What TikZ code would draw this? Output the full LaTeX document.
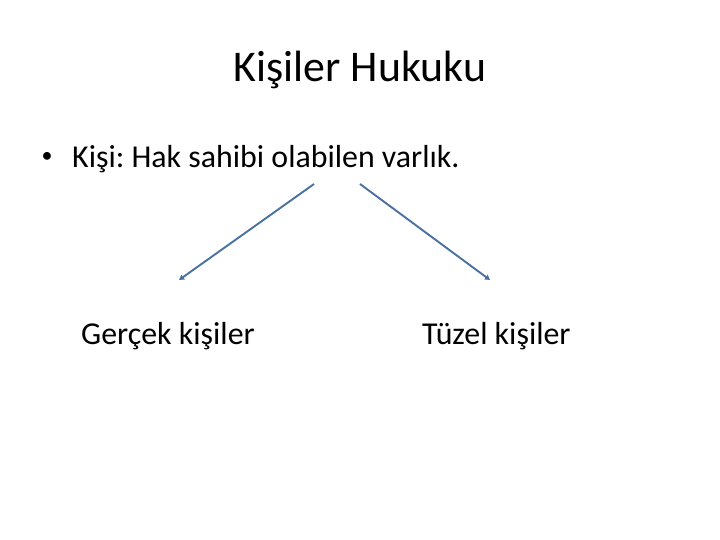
\documentclass[tikz,border=0pt]{standalone}
\usepackage{fontspec}
\setmainfont{Carlito}
\usetikzlibrary{arrows.meta}
\definecolor{linkblue}{RGB}{74,112,160}
\frenchspacing
\begin{document}
\begin{tikzpicture}[x=1bp,y=-1bp,
  txt/.style={inner sep=0pt,anchor=base west,font=\fontsize{32}{38}\selectfont},
  conn/.style={draw=linkblue,line width=1.9bp,-{Triangle[length=5bp,width=5.5bp]}}]
\useasboundingbox (0,0) rectangle (720,540);
\node[inner sep=0pt,anchor=base,font=\fontsize{44}{52}\selectfont] (title) at (360,82) {Kişiler Hukuku};
\node[inner sep=0pt,anchor=base,font=\fontsize{22}{26}\selectfont] (dot) at (47,163) {•};
\node[txt] (bul) at (72,168) {Kişi: Hak sahibi olabilen varlık.};
\coordinate (ls) at (314,184);
\coordinate (le) at (179,280);
\coordinate (rs) at (360,184);
\coordinate (re) at (490,280);
\draw[conn] (ls) -- (le);
\draw[conn] (rs) -- (re);
\node[txt] (g) at (81,344) {Gerçek kişiler};
\node[txt] (t) at (422,344) {Tüzel kişiler};
\end{tikzpicture}
\end{document}
